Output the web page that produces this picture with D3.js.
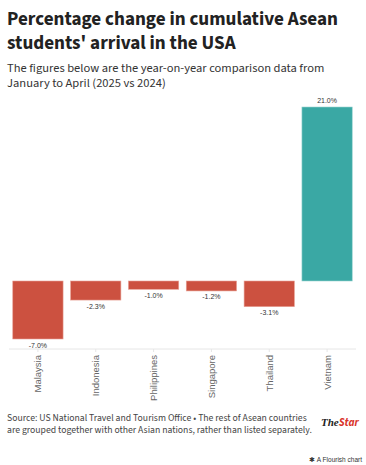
<!DOCTYPE html>
<html>
<head>
<meta charset="utf-8">
<script src="https://cdn.jsdelivr.net/npm/d3@7"></script>
<style>
  body { margin: 0; background: #fff; }
  svg text { font-family: "Source Sans 3", "Open Sans", sans-serif; }
  svg text.sm { font-family: "Liberation Sans", Arial, sans-serif; }
</style>
</head>
<body>
<div id="main"></div>
<script>
const width = 366;
const height = 465;

const countries = ["Malaysia", "Indonesia", "Philippines", "Singapore", "Thailand", "Vietnam"];
const changes = [-7.0, -2.3, -1.0, -1.2, -3.1, 21.0];

const negColor = "#cc5140";
const posColor = "#3aa8a4";

const svg = d3.select("#main").append("svg")
  .attr("width", width)
  .attr("height", height);

// title + subtitle, one text per line
const titleLines = ["Percentage change in cumulative Asean", "students' arrival in the USA"];
svg.selectAll(".title")
  .data(titleLines)
  .enter()
  .append("text")
  .attr("class", "title")
  .attr("x", 7)
  .attr("y", (d, i) => 25 + i * 24)
  .attr("font-size", 19.1)
  .attr("font-weight", 700)
  .attr("fill", "#222")
  .text((d) => d);

const subLines = ["The figures below are the year-on-year comparison data from", "January to April (2025 vs 2024)"];
svg.selectAll(".sub")
  .data(subLines)
  .enter()
  .append("text")
  .attr("class", "sub")
  .attr("x", 7)
  .attr("y", (d, i) => 71.5 + i * 15.5)
  .attr("font-size", 12.5)
  .attr("fill", "#333")
  .text((d) => d);

// chart
const x = d3.scaleBand()
  .domain(countries)
  .range([9, 356])
  .paddingInner(0.13)
  .paddingOuter(0.065);

const y = d3.scaleLinear()
  .domain([-7, 21])
  .range([339, 107]);

const bars = svg.append("g").attr("class", "bars");
bars.selectAll("rect")
  .data(countries)
  .enter()
  .append("rect")
  .attr("x", (d) => x(d))
  .attr("width", x.bandwidth())
  .attr("y", (d, i) => y(Math.max(0, changes[i])))
  .attr("height", (d, i) => Math.abs(y(changes[i]) - y(0)))
  .attr("fill", (d, i) => (changes[i] < 0 ? negColor : posColor))
  .attr("stroke", (d, i) => (changes[i] < 0 ? "#e8a296" : "#9cd4d1"))
  .attr("stroke-width", 0.6);

bars.selectAll(".val")
  .data(countries)
  .enter()
  .append("text")
  .attr("class", "val sm")
  .attr("x", (d) => x(d) + x.bandwidth() / 2)
  .attr("y", (d, i) => (changes[i] < 0 ? y(changes[i]) + 8.5 : y(changes[i]) - 4))
  .attr("text-anchor", "middle")
  .attr("font-size", 7)
  .attr("fill", "#333")
  .text((d, i) => changes[i].toFixed(1) + "%");

// x axis
const axis = svg.append("g").attr("transform", "translate(0,349)");
axis.append("line")
  .attr("x1", 9).attr("x2", 356)
  .attr("stroke", "#e6e6e6");
axis.selectAll(".tick")
  .data(countries)
  .enter()
  .append("line")
  .attr("x1", (d) => x(d) + x.bandwidth() / 2)
  .attr("x2", (d) => x(d) + x.bandwidth() / 2)
  .attr("y1", 0).attr("y2", 3)
  .attr("stroke", "#e6e6e6");
axis.selectAll(".lab")
  .data(countries)
  .enter()
  .append("text")
  .attr("class", "lab sm")
  .attr("transform", (d) => `translate(${x(d) + x.bandwidth() / 2 + 3.5},6) rotate(-90)`)
  .attr("text-anchor", "end")
  .attr("font-size", 9.5)
  .attr("fill", "#666")
  .text((d) => d);

// footer
const footLines = [
  "Source: US National Travel and Tourism Office \u2022 The rest of Asean countries",
  "are grouped together with other Asian nations, rather than listed separately."
];
svg.selectAll(".foot")
  .data(footLines)
  .enter()
  .append("text")
  .attr("class", "foot")
  .attr("x", 7)
  .attr("y", (d, i) => 420.5 + i * 12.5)
  .attr("font-size", 9.7)
  .attr("fill", "#444")
  .text((d) => d);

const logo = svg.append("text")
  .attr("x", 321).attr("y", 426)
  .attr("font-size", 11)
  .attr("font-style", "italic")
  .attr("font-weight", 700);
logo.append("tspan").attr("fill", "#222").style("font-family", "Liberation Serif, serif").text("The");
logo.append("tspan").attr("fill", "#d9342b").text("Star");

svg.append("text")
  .attr("class", "sm")
  .attr("x", 362).attr("y", 462)
  .attr("text-anchor", "end")
  .attr("font-size", 6.5)
  .attr("fill", "#333")
  .text("\u2731 A Flourish chart");
</script>
</body>
</html>
